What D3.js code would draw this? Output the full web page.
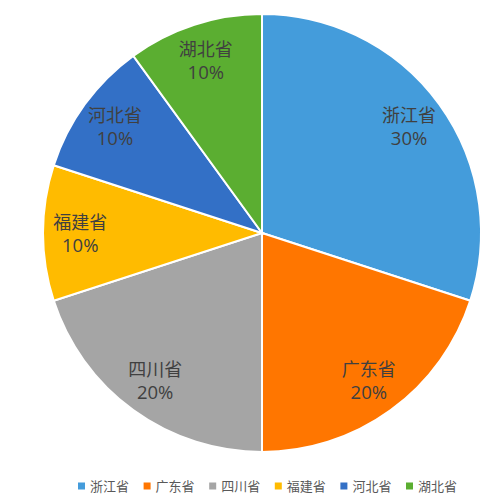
<!DOCTYPE html>
<html>
<head>
<meta charset="utf-8">
<script src="https://cdn.jsdelivr.net/npm/d3@7"></script>
<style>
  body { margin: 0; background: #fff; }
  svg text { font-family: "Noto Sans CJK SC", "Noto Sans", sans-serif; }
</style>
</head>
<body>
<div id="chart"></div>
<script>
// data
const provinces = ['浙江省', '广东省', '四川省', '福建省', '河北省', '湖北省'];
const shares = [30, 20, 20, 10, 10, 10];
const colors = ['#449cdb', '#ff7600', '#a5a5a5', '#ffbb00', '#3370c6', '#5bae31'];

const width = 500, height = 504;
const cx = 262, cy = 233, radius = 219;

const svg = d3.select('#chart').append('svg')
    .attr('width', width)
    .attr('height', height);

const pie = d3.pie().sort(null).value(d => d.value);
const arcs = pie(provinces.map((p, i) => ({name: p, value: shares[i]})));

const color = d3.scaleOrdinal().domain(provinces).range(colors);

const arc = d3.arc().innerRadius(0).outerRadius(radius);
const labelArc = d3.arc().innerRadius(radius * 0.83).outerRadius(radius * 0.83);

const g = svg.append('g').attr('transform', 'translate(' + cx + ',' + cy + ')');

g.selectAll('path')
  .data(arcs)
  .enter()
  .append('path')
  .attr('d', arc)
  .attr('fill', d => color(d.data.name))
  .attr('stroke', '#fff')
  .attr('stroke-width', 2);

// labels: name + percent
const labels = g.selectAll('text.lbl')
  .data(arcs)
  .enter()
  .append('text')
  .attr('class', 'lbl')
  .attr('transform', d => {
    const c = labelArc.centroid(d);
    return 'translate(' + c[0] + ',' + c[1] + ')';
  })
  .attr('text-anchor', 'middle')
  .attr('fill', '#404040')
  .style('font-size', '18px');

labels.append('tspan')
  .attr('x', 0)
  .attr('y', -4)
  .text(d => d.data.name);
labels.append('tspan')
  .attr('x', 0)
  .attr('y', 19)
  .style('font-family', '"Open Sans", sans-serif')
  .style('font-size', '18.5px')
  .text(d => d.data.value + '%');

// legend
const legendX = d3.scalePoint().domain(provinces).range([78, 406]);
const legend = svg.append('g').attr('transform', 'translate(0,486)');

const items = legend.selectAll('g')
  .data(provinces)
  .enter()
  .append('g')
  .attr('transform', d => 'translate(' + legendX(d) + ',0)');

items.append('rect')
  .attr('x', 0)
  .attr('y', -3.5)
  .attr('width', 7)
  .attr('height', 7)
  .attr('fill', d => color(d));

items.append('text')
  .attr('x', 12)
  .attr('y', 0)
  .attr('dy', '0.35em')
  .attr('fill', '#595959')
  .style('font-size', '13px')
  .text(d => d);
</script>
</body>
</html>
